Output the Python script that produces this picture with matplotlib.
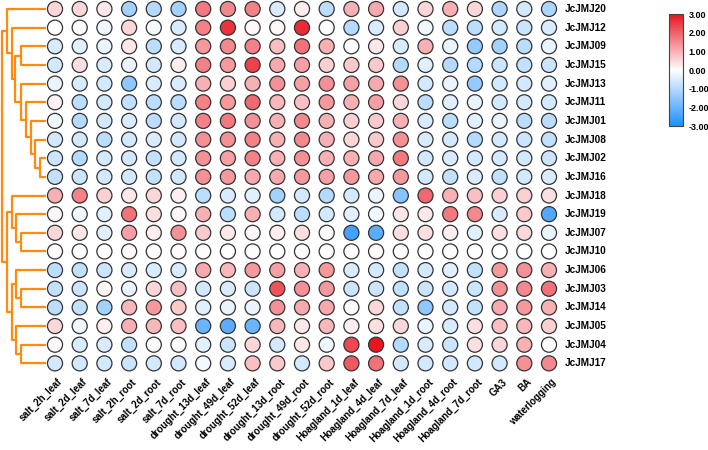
import numpy as np
import matplotlib
matplotlib.use('Agg')
import matplotlib.pyplot as plt
from matplotlib.colors import LinearSegmentedColormap, Normalize

plt.rcParams['font.family'] = ['Liberation Sans', 'DejaVu Sans']

conditions = ['salt_2h_leaf', 'salt_2d_leaf', 'salt_7d_leaf', 'salt_2h_root', 'salt_2d_root', 'salt_7d_root',
              'drought_13d_leaf', 'drought_49d_leaf', 'drought_52d_leaf', 'drought_13d_root', 'drought_49d_root',
              'drought_52d_root', 'Hoagland_1d_leaf', 'Hoagland_4d_leaf', 'Hoagland_7d_leaf', 'Hoagland_1d_root',
              'Hoagland_4d_root', 'Hoagland_7d_root', 'GA3', 'BA', 'waterlogging']
genes = ['JcJMJ20', 'JcJMJ12', 'JcJMJ09', 'JcJMJ15', 'JcJMJ13', 'JcJMJ11', 'JcJMJ01', 'JcJMJ08', 'JcJMJ02', 'JcJMJ16',
         'JcJMJ18', 'JcJMJ19', 'JcJMJ07', 'JcJMJ10', 'JcJMJ06', 'JcJMJ03', 'JcJMJ14', 'JcJMJ05', 'JcJMJ04', 'JcJMJ17']

# log2 fold change
JcJMJ20 = [0.5, 0.5, 0.3, -1.2, -1.0, -1.2, 1.7, 1.5, 1.6, -0.5, 0.2, -0.9, 1.0, 1.1, -0.6, 0.5, 1.0, 0.5, -1.1, -0.6, -1.1]
JcJMJ12 = [0.0, -0.05, -0.2, 0.5, -0.15, -0.5, 1.6, 2.6, 0.1, 0.1, 2.7, 0.0, -1.0, -0.5, 0.6, -0.2, -0.9, -0.9, -0.6, -0.7, -0.5]
JcJMJ09 = [-0.5, -0.4, -0.3, 0.3, -0.9, -0.5, 1.3, 1.5, 1.6, 0.8, 1.8, 1.0, 0.0, 0.3, -0.5, 1.0, -0.3, -1.4, -1.2, -0.9, -0.3]
JcJMJ15 = [-0.6, 0.4, -0.5, -0.3, -0.6, 0.2, 1.6, 1.3, 2.4, 1.1, 1.2, 0.6, 0.7, 0.7, -1.0, -0.4, -1.0, -1.0, -0.7, -0.8, -0.7]
JcJMJ13 = [-0.3, -0.5, -0.6, -1.5, -0.5, -0.5, 1.0, 0.6, 1.0, 1.4, 1.2, 1.4, 1.2, 1.1, 1.4, -0.6, -0.3, -1.4, -0.6, -0.6, -0.4]
JcJMJ11 = [0.15, -0.9, -0.6, -0.8, -0.9, -0.9, 1.6, 1.3, 1.9, 0.9, 0.8, 1.3, 1.0, 1.2, 0.5, -0.9, -0.4, -0.3, -0.6, -0.6, -0.6]
JcJMJ01 = [-0.2, -1.0, -0.6, -0.5, -0.9, -0.6, 1.6, 1.7, 1.4, 1.0, 1.5, 1.0, 0.6, 0.7, 1.0, -0.5, -0.9, -0.4, -0.3, -0.9, -0.9]
JcJMJ08 = [-0.6, -0.6, -0.9, -0.6, -0.5, -0.6, 1.4, 1.4, 1.6, 1.0, 1.5, 1.0, 0.5, 0.7, 1.4, -0.5, -0.6, -1.0, -0.6, -0.7, -0.8]
JcJMJ02 = [-0.7, -1.0, -0.6, -0.6, -0.8, -0.6, 1.4, 1.2, 1.6, 1.0, 1.4, 1.0, 1.0, 1.1, 1.7, -0.6, -0.5, -0.6, -0.6, -0.6, -0.7]
JcJMJ16 = [-0.8, -0.7, -0.6, -0.6, -0.8, -0.6, 1.4, 1.3, 1.1, 1.1, 1.3, 1.2, 1.3, 1.1, 1.3, -0.6, -0.8, -0.5, -0.8, -0.6, -0.5]
JcJMJ18 = [1.0, 1.6, 0.6, 0.3, 0.5, 0.2, -0.9, -0.5, -0.4, -1.2, -0.6, -1.0, -0.6, -0.3, -1.6, 1.9, 1.0, 0.8, 0.6, 0.6, 0.4]
JcJMJ19 = [0.1, -0.2, -0.4, 1.8, 0.4, 0.1, 1.0, -0.9, 1.0, -0.6, -0.9, -0.6, -0.4, -0.2, 0.3, 0.3, 1.7, 1.5, -0.5, 0.7, -2.3]
JcJMJ07 = [0.5, 0.3, -0.4, 1.2, 0.2, 1.4, 0.7, 0.3, 0.1, 0.2, 0.4, 0.05, -2.5, -2.2, 0.4, 0.4, 0.2, -0.4, 0.4, 0.5, -0.3]
JcJMJ10 = [0.05, 0.0, 0.0, 0.05, 0.0, 0.05, 0.05, 0.0, 0.05, 0.0, 0.05, 0.0, 0.0, 0.05, 0.0, 0.0, 0.05, 0.0, 0.0, 0.0, 0.0]
JcJMJ06 = [-0.9, -0.8, -0.7, -0.5, -0.5, -0.5, 1.1, 0.9, 1.3, 1.2, 1.0, 1.3, -0.5, -0.6, -0.8, -0.6, -0.4, -0.8, 1.3, 1.4, 1.0]
JcJMJ03 = [-0.8, -0.7, 0.1, -0.3, 0.5, 0.8, -0.6, -0.5, -0.7, 2.2, 1.4, 1.3, -0.7, -0.7, -0.8, -0.7, -0.6, -0.7, 1.4, 1.5, 1.8]
JcJMJ14 = [-0.9, -0.8, -1.2, 0.9, 1.3, 0.7, -0.4, -0.3, -0.3, 1.4, 1.1, 1.1, 0.05, 0.5, -0.8, -1.5, -0.6, -0.8, 1.1, 1.3, 1.0]
JcJMJ05 = [0.5, -0.2, 0.2, 1.0, 0.9, 0.8, -2.0, -2.2, -2.0, 0.9, 0.3, 0.9, 0.2, 0.4, 0.5, -0.3, -0.5, 0.4, 0.8, 0.9, 0.6]
JcJMJ04 = [0.05, -0.5, -0.5, -0.8, 0.0, 0.05, -0.4, -0.7, 0.5, -0.6, 0.3, -0.2, 2.3, 3.0, -1.0, -0.5, -0.7, 0.4, 0.5, 1.0, 0.05]
JcJMJ17 = [-0.6, -0.6, -0.6, -0.7, -0.6, -0.6, -0.15, -0.5, 0.8, 0.7, -0.6, 0.7, 2.1, 1.8, -0.6, -0.6, -0.6, -0.6, -0.6, 1.4, 1.5]

values = np.array([JcJMJ20, JcJMJ12, JcJMJ09, JcJMJ15, JcJMJ13, JcJMJ11, JcJMJ01, JcJMJ08, JcJMJ02, JcJMJ16,
                   JcJMJ18, JcJMJ19, JcJMJ07, JcJMJ10, JcJMJ06, JcJMJ03, JcJMJ14, JcJMJ05, JcJMJ04, JcJMJ17])

# 行聚类树: (左, 右, 距离)，叶子用行号
tree = [(2, 3, 24), (8, 9, 6), (7, 21, 11), (6, 22, 15), (5, 23, 20), (4, 24, 24), (20, 25, 30),
        (1, 26, 33), (0, 27, 38),
        (12, 13, 24), (11, 29, 29), (10, 30, 33), (15, 16, 24), (14, 32, 29), (18, 19, 24), (17, 34, 29),
        (33, 35, 33), (31, 36, 38), (28, 37, 43.5)]

cmap = LinearSegmentedColormap.from_list('bwr2', ['#1E8FFF', '#FFFFFF', '#E8141F'])
norm = Normalize(-3, 3)

fig = plt.figure(figsize=(7.08, 4.5), dpi=100)
W, H = 708, 450
dx, dy = 24.7, 18.65
x0, y0 = 55 - dx / 2, 9 - dy / 2
ax = fig.add_axes([x0 / W, 1 - (y0 + 20 * dy) / H, 21 * dx / W, 20 * dy / H])

xx, yy = np.meshgrid(np.arange(len(conditions)), np.arange(len(genes)))
ax.scatter(xx.ravel(), yy.ravel(), c=values.ravel(), cmap=cmap, norm=norm, s=118,
           edgecolors='#333333', linewidths=0.9, zorder=3)
ax.set_xlim(-0.5, 20.5)
ax.set_ylim(19.5, -0.5)
ax.axis('off')

for i, g in enumerate(genes):
    ax.text(20.63, i, g, ha='left', va='center', fontsize=7.2, fontweight='bold')
for j, c in enumerate(conditions):
    ax.text(j + 0.1, 19.72, c, rotation=45, ha='right', va='top', rotation_mode='anchor',
            fontsize=7, fontweight='bold')

# dendrogram
dax = fig.add_axes([0, 1 - (y0 + 20 * dy) / H, 46 / W, 20 * dy / H])
pos = {i: (float(i), 0.0) for i in range(len(genes))}
for k, (a, b, h) in enumerate(tree):
    ya, ha_ = pos[a]
    yb, hb = pos[b]
    dax.plot([ha_, h, h, hb], [ya, ya, yb, yb], color='#FF8A0D', lw=1.6, solid_capstyle='butt')
    pos[len(genes) + k] = ((ya + yb) / 2, h)
dax.set_xlim(45, 0)
dax.set_ylim(19.5, -0.5)
dax.axis('off')

# colorbar
cax = fig.add_axes([669 / W, 1 - 126 / H, 14 / W, 112 / H])
sm = plt.cm.ScalarMappable(cmap=cmap, norm=norm)
cb = fig.colorbar(sm, cax=cax, ticks=[-3, -2, -1, 0, 1, 2, 3])
cb.ax.set_yticklabels([f'{t:.2f}' for t in [-3, -2, -1, 0, 1, 2, 3]], fontsize=6.5, fontweight='bold')
cb.ax.tick_params(length=0, pad=4)
cb.outline.set_edgecolor('#444444')
cb.outline.set_linewidth(0.8)

plt.savefig('out.png', dpi=100)
